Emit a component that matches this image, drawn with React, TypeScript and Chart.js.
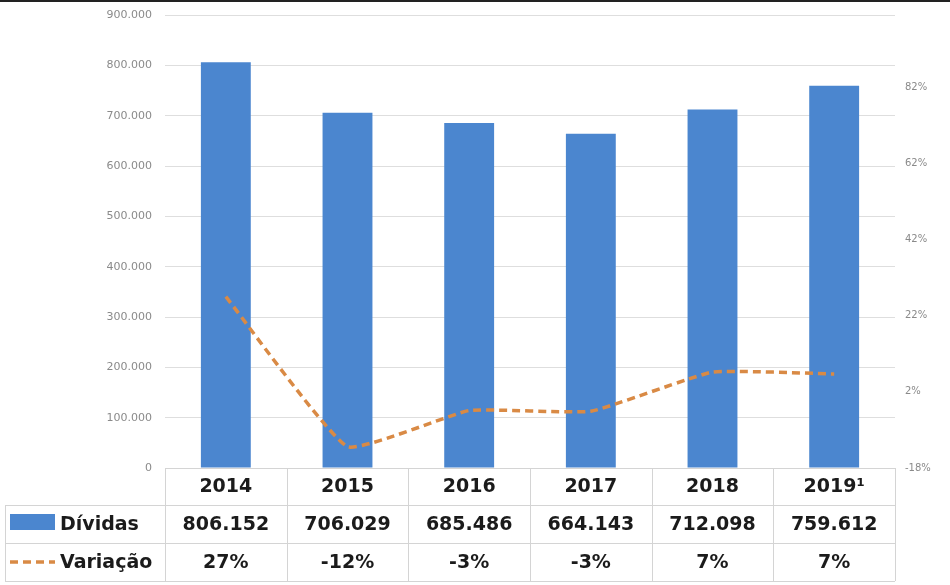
import React, { useEffect, useRef } from "react";
import { Chart, registerables } from "chart.js";

Chart.register(...registerables);

const CATEGORIES = ["2014", "2015", "2016", "2017", "2018", "2019¹"];
const DIVIDAS = [806152, 706029, 685486, 664143, 712098, 759612];
const VARIACAO = [27, -12.4, -2.9, -3.1, 7.2, 6.7];
const DIVIDAS_LABELS = ["806.152", "706.029", "685.486", "664.143", "712.098", "759.612"];
const VARIACAO_LABELS = ["27%", "-12%", "-3%", "-3%", "7%", "7%"];
const RIGHT_TICKS = [-18, 2, 22, 42, 62, 82];

const BAR_COLOR = "#4b86cf";
const LINE_COLOR = "#d98a45";

function fmtThousands(v: number): string {
  const s = Math.round(v).toString();
  return s.replace(/\B(?=(\d{3})+(?!\d))/g, ".");
}

const tablePlugin = {
  id: "dataTable",
  afterDraw(chart: any) {
    const ctx = chart.ctx as CanvasRenderingContext2D;
    const area = chart.chartArea;
    const x = chart.scales.x;
    const n = CATEGORIES.length;
    const colW = (area.right - area.left) / n;
    const top = area.bottom;
    const r1 = 503;
    const r2 = 541;
    const r3 = 579;
    const tableLeft = 5;
    ctx.save();
    ctx.strokeStyle = "#d4d4d4";
    ctx.lineWidth = 1;
    ctx.beginPath();
    ctx.moveTo(area.left, top + 0.5);
    ctx.lineTo(area.right, top + 0.5);
    [r1, r2, r3].forEach((y) => {
      ctx.moveTo(tableLeft, y + 0.5);
      ctx.lineTo(area.right, y + 0.5);
    });
    for (let i = 0; i <= n; i++) {
      const xx = Math.round(area.left + i * colW) + 0.5;
      ctx.moveTo(xx, top);
      ctx.lineTo(xx, r3);
    }
    ctx.moveTo(tableLeft + 0.5, r1);
    ctx.lineTo(tableLeft + 0.5, r3);
    ctx.stroke();

    ctx.fillStyle = "#1b1b1b";
    ctx.font = "bold 19px 'DejaVu Sans'";
    ctx.textAlign = "center";
    ctx.textBaseline = "middle";
    for (let i = 0; i < n; i++) {
      const cx = x.getPixelForValue(i);
      ctx.fillText(CATEGORIES[i], cx, (top + r1) / 2 + 1);
      ctx.fillText(DIVIDAS_LABELS[i], cx, (r1 + r2) / 2 + 1);
      ctx.fillText(VARIACAO_LABELS[i], cx, (r2 + r3) / 2 + 1);
    }
    ctx.textAlign = "left";
    ctx.fillText("Dívidas", 60, (r1 + r2) / 2 + 1);
    ctx.fillText("Variação", 60, (r2 + r3) / 2 + 1);
    ctx.fillStyle = BAR_COLOR;
    ctx.fillRect(10, 512, 45, 16);
    ctx.strokeStyle = LINE_COLOR;
    ctx.lineWidth = 3.5;
    ctx.setLineDash([8, 5]);
    ctx.beginPath();
    ctx.moveTo(10, 560);
    ctx.lineTo(55, 560);
    ctx.stroke();
    ctx.restore();
  },
};

export default function App() {
  const ref = useRef<HTMLCanvasElement | null>(null);
  useEffect(() => {
    if (!ref.current) return;
    const chart = new Chart(ref.current, {
      type: "bar",
      data: {
        labels: CATEGORIES,
        datasets: [
          {
            type: "line",
            label: "Variação",
            data: VARIACAO,
            yAxisID: "y2",
            borderColor: LINE_COLOR,
            borderWidth: 3.5,
            borderDash: [8, 5],
            pointRadius: 0,
            tension: 0.12,
            fill: false,
            order: 0,
          } as any,
          {
            type: "bar",
            label: "Dívidas",
            data: DIVIDAS,
            yAxisID: "y",
            backgroundColor: BAR_COLOR,
            barPercentage: 0.41,
            categoryPercentage: 1,
            order: 1,
          },
        ],
      },
      options: {
        animation: false,
        responsive: false,
        maintainAspectRatio: false,
        layout: { padding: { top: 13, bottom: 117, left: 0, right: 0 } },
        plugins: { legend: { display: false }, tooltip: { enabled: false } },
        scales: {
          x: { display: false },
          y: {
            position: "left",
            min: 0,
            max: 900000,
            ticks: {
              stepSize: 100000,
              padding: 13,
              color: "#8a8a8a",
              font: { family: "'DejaVu Sans'", size: 11 },
              callback: (v: any) => fmtThousands(Number(v)),
            },
            grid: { color: "#dedede", drawTicks: false, lineWidth: 1 },
            border: { display: false },
            afterFit: (axis: any) => {
              axis.width = 165;
              axis.paddingTop = 0;
              axis.paddingBottom = 0;
            },
          },
          y2: {
            position: "right",
            min: -18,
            max: 101,
            afterBuildTicks: (axis: any) => {
              axis.ticks = RIGHT_TICKS.map((v) => ({ value: v }));
            },
            ticks: {
              padding: 10,
              color: "#8a8a8a",
              font: { family: "'DejaVu Sans'", size: 10 },
              callback: (v: any) => `${v}%`,
            },
            grid: { display: false, drawTicks: false },
            border: { display: false },
            afterFit: (axis: any) => {
              axis.width = 55;
              axis.paddingTop = 0;
              axis.paddingBottom = 0;
            },
          },
        },
      },
      plugins: [tablePlugin],
    });
    return () => chart.destroy();
  }, []);
  return (
    <div
      style={{
        position: "fixed",
        left: 0,
        top: 0,
        width: 950,
        height: 585,
        background: "#fff",
        borderTop: "2px solid #222",
        boxSizing: "border-box",
      }}
    >
      <canvas ref={ref} width={950} height={583} style={{ display: "block" }} />
    </div>
  );
}
